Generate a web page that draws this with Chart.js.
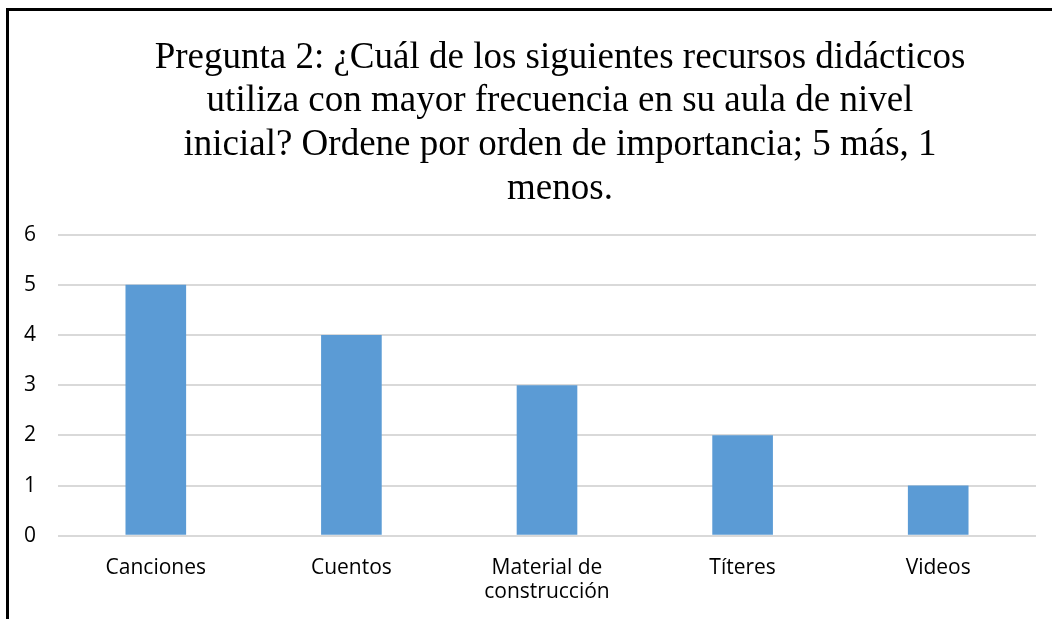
<!DOCTYPE html>
<html>
<head>
<meta charset="utf-8">
<script src="https://cdn.jsdelivr.net/npm/chart.js@4.4.0/dist/chart.umd.min.js"></script>
<style>
  html, body { margin: 0; padding: 0; background: #fff; overflow: hidden; }
  #marco {
    position: absolute; left: 6px; top: 8px;
    width: 1102px; height: 609px;
    border-left: 3px solid #000; border-top: 3px solid #000;
  }
</style>
</head>
<body>
<div id="marco"><canvas id="grafico" width="1102" height="609"></canvas></div>
<script>
// Datos del gráfico
const categorias = ['Canciones', 'Cuentos', ['Material de', 'construcción'], 'Títeres', 'Videos'];
const valores = [5, 4, 3, 2, 1];
const tituloLineas = [
    'Pregunta 2: ¿Cuál de los siguientes recursos didácticos',
    'utiliza con mayor frecuencia en su aula de nivel',
    'inicial? Ordene por orden de importancia; 5 más, 1',
    'menos.'
];

const azul = '#5B9BD5';
const rejilla = '#D9D9D9';

// el título va centrado sobre todo el recuadro, no sobre el área con relleno
const moverTitulo = {
    id: 'moverTitulo',
    afterLayout(chart) {
        const t = chart.titleBlock;
        if (t) {
            const desplazar = 551 - (t.left + t.right) / 2;
            t.left += desplazar;
            t.right += desplazar;
        }
    }
};

const ctx = document.getElementById('grafico').getContext('2d');
new Chart(ctx, {
    type: 'bar',
    data: {
        labels: categorias,
        datasets: [{
            data: valores,
            backgroundColor: azul,
            borderWidth: 0,
            categoryPercentage: 1,
            barPercentage: 0.31
        }]
    },
    options: {
        responsive: false,
        animation: false,
        layout: { padding: { left: -7, right: 75, top: 14, bottom: 4 } },
        plugins: {
            legend: { display: false },
            tooltip: { enabled: false },
            title: {
                display: true,
                text: tituloLineas,
                color: '#000',
                font: { family: '"Liberation Serif", "Times New Roman", serif', size: 37, weight: 'normal', lineHeight: 1.18 },
                padding: { top: 11, bottom: 24 }
            }
        },
        scales: {
            y: {
                min: 0,
                max: 6,
                ticks: {
                    stepSize: 1,
                    color: '#000',
                    padding: 22,
                    font: { family: '"Open Sans", "Noto Sans", sans-serif', size: 21 }
                },
                grid: { color: rejilla, lineWidth: 2, drawTicks: false },
                border: { display: false }
            },
            x: {
                ticks: {
                    color: '#000',
                    padding: 12,
                    maxRotation: 0,
                    font: { family: '"Open Sans", "Noto Sans", sans-serif', size: 21, lineHeight: 1.15 }
                },
                grid: { display: false },
                border: { display: false }
            }
        }
    },
    plugins: [moverTitulo]
});
</script>
</body>
</html>
